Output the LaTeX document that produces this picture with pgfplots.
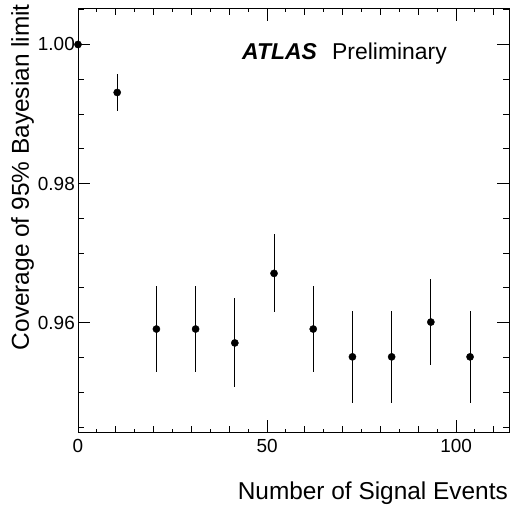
\documentclass[border=0pt]{standalone}
\usepackage{pgfplots}
\pgfplotsset{compat=1.18}
\usepackage{pgfplotstable}
\usepackage{fontspec}
\setmainfont{Liberation Sans}

\pgfplotstableread{
x y e
0 1.000 0
10.37 0.9931 0.0027
20.74 0.9591 0.0062
31.11 0.9591 0.0062
41.48 0.9571 0.0064
51.85 0.9671 0.0056
62.22 0.9591 0.0062
72.59 0.9551 0.0066
82.96 0.9551 0.0066
93.33 0.9601 0.0062
103.7 0.9551 0.0066
}\datatable

\begin{document}
\begin{tikzpicture}
\path[use as bounding box] (-78bp,-73bp) rectangle (432bp,432bp);
\begin{axis}[
  at={(0,0)}, anchor=south west,
  scale only axis,
  width=431bp, height=423bp,
  xmin=0, xmax=114,
  ymin=0.9443, ymax=1.0051,
  axis line style={line width=1bp},
  tick style={line width=1bp, black},
  tick align=inside,
  xtick pos=both, ytick pos=both,
  xticklabel pos=bottom, yticklabel pos=left,
  major tick length=12bp,
  minor tick length=6bp,
  xtick={0,50,100},
  minor xtick={10,20,30,40,60,70,80,90,110},
  extra x ticks={5,15,25,35,45,55,65,75,85,95,105},
  extra x tick labels={},
  extra x tick style={major tick length=3bp, tick style={line width=1bp}},
  ytick={0.96,0.98,1.00},
  minor ytick={0.945,0.95,0.955,0.965,0.97,0.975,0.985,0.99,0.995,1.005},
  /pgf/number format/assume math mode=true,
  yticklabel style={font=\fontsize{19}{22}\selectfont, inner sep=0pt, xshift=-3bp,
    /pgf/number format/.cd, fixed, fixed zerofill, precision=2},
  xticklabel style={font=\fontsize{19}{22}\selectfont, inner sep=0pt, yshift=-7bp},
  scaled y ticks=false,
  clip=false,
]
\addplot+[only marks, mark=*, black, mark size=3.6bp,
  mark options={fill=black, draw=black, line width=0.4bp},
  error bars/.cd, y dir=both, y explicit,
  error bar style={line width=1bp, black}, error mark=none]
  table[x=x, y=y, y error=e] {\datatable};
\end{axis}
\node[rotate=90, anchor=base east, inner sep=0pt] at (-49bp,428bp)
  {\fontsize{24.5}{28}\selectfont Coverage of 95\% Bayesian limit};
\node[anchor=base east, inner sep=0pt] at (430bp,-67.3bp)
  {\fontsize{24.5}{28}\selectfont Number of Signal Events};
\node[anchor=base west, inner sep=0pt] at (164bp,372.7bp)
  {\fontsize{23}{26}\selectfont\bfseries\itshape ATLAS};
\node[anchor=base west, inner sep=0pt] at (254bp,372.7bp)
  {\fontsize{23}{26}\selectfont Preliminary};
\end{tikzpicture}
\end{document}
